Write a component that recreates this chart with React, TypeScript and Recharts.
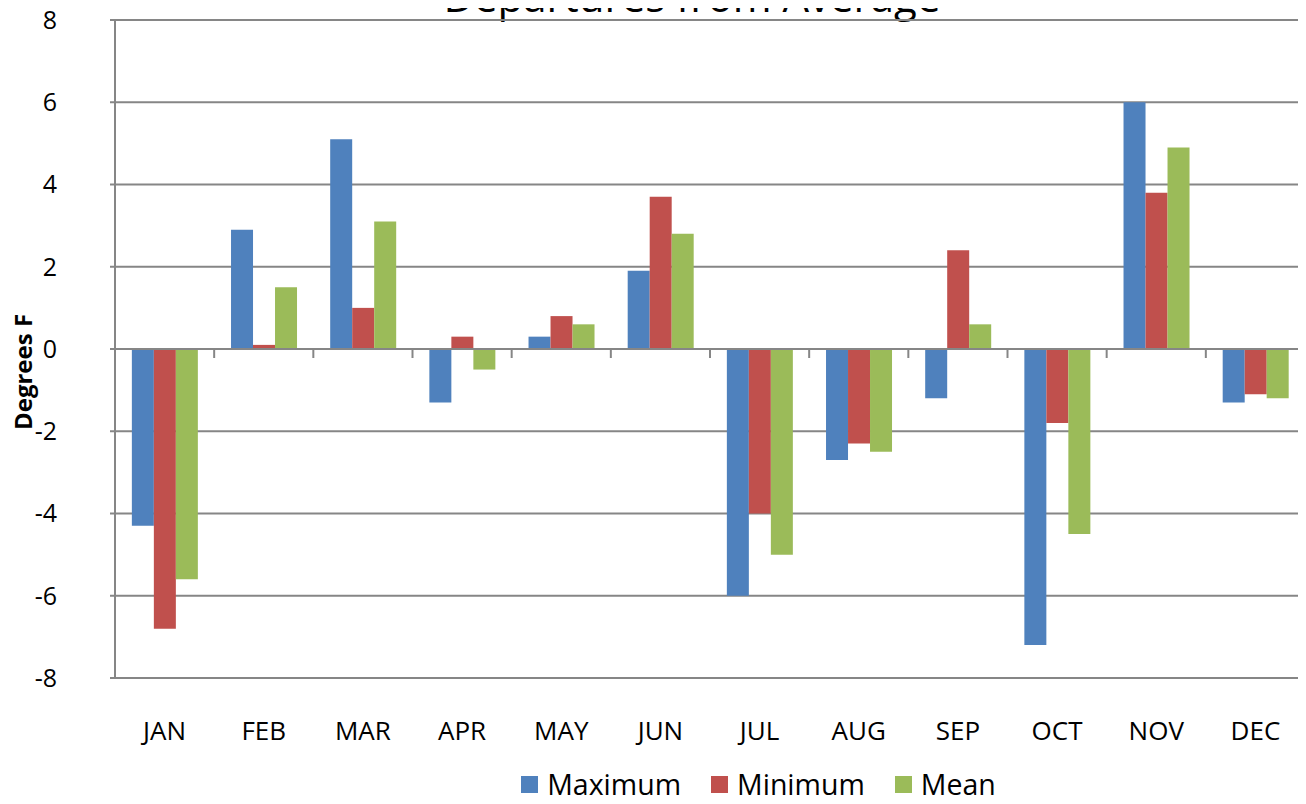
import React from "react";
import {
    BarChart,
    Bar,
    XAxis,
    YAxis,
    CartesianGrid,
    ReferenceLine,
    Legend,
} from "recharts";

const months = ["JAN", "FEB", "MAR", "APR", "MAY", "JUN", "JUL", "AUG", "SEP", "OCT", "NOV", "DEC"];
const maximum = [-4.3, 2.9, 5.1, -1.3, 0.3, 1.9, -6.0, -2.7, -1.2, -7.2, 6.0, -1.3];
const minimum = [-6.8, 0.1, 1.0, 0.3, 0.8, 3.7, -4.0, -2.3, 2.4, -1.8, 3.8, -1.1];
const mean = [-5.6, 1.5, 3.1, -0.5, 0.6, 2.8, -5.0, -2.5, 0.6, -4.5, 4.9, -1.2];
const yTicks = [-8, -6, -4, -2, 0, 2, 4, 6, 8];

const series = [
    { key: "Maximum", color: "#4F81BD" },
    { key: "Minimum", color: "#C0504D" },
    { key: "Mean", color: "#9BBB59" },
];

const data = months.map((month, i) => ({
    month,
    Maximum: maximum[i],
    Minimum: minimum[i],
    Mean: mean[i],
}));

const W = 1306;
const H = 796;
const PLOT_LEFT = 115;
const PLOT_RIGHT = 1305;
const PLOT_TOP = 20;
const PLOT_BOTTOM = 678;
const ZERO_Y = (PLOT_TOP + PLOT_BOTTOM) / 2;
const BAND = (PLOT_RIGHT - PLOT_LEFT) / months.length;
const FONT = "'Open Sans', sans-serif";
const GRID = "#868686";

function MonthTick(props: any) {
    const { x, payload, index } = props;
    return (
        <g>
            <line x1={x - BAND / 2} x2={x - BAND / 2} y1={ZERO_Y} y2={ZERO_Y + 9} stroke={GRID} strokeWidth={2} />
            {index === months.length - 1 && (
                <line x1={x + BAND / 2} x2={x + BAND / 2} y1={ZERO_Y} y2={ZERO_Y + 9} stroke={GRID} strokeWidth={2} />
            )}
            <text x={x} y={PLOT_BOTTOM + 52} textAnchor="middle" dominantBaseline="central" fontSize={26} fontFamily={FONT} fill="#000">
                {payload.value}
            </text>
        </g>
    );
}

function AxisTitle() {
    return (
        <text
            x={22}
            y={372}
            transform="rotate(-90 22 372)"
            textAnchor="middle"
            dominantBaseline="central"
            fontSize={24}
            fontWeight="bold"
            fontFamily={FONT}
            fill="#000"
        >
            Degrees F
        </text>
    );
}

function LegendContent() {
    return (
        <div style={{ display: "flex", justifyContent: "center", gap: 30, paddingLeft: 212, paddingTop: 34, height: 24, fontFamily: FONT, fontSize: 28.5, lineHeight: "30px" }}>
            {series.map((s) => (
                <div key={s.key} style={{ display: "flex", alignItems: "center" }}>
                    <span style={{ display: "inline-block", width: 17, height: 17, background: s.color, marginRight: 9 }} />
                    <span>{s.key}</span>
                </div>
            ))}
        </div>
    );
}

export default function App() {
    return (
        <div style={{ position: "relative", width: W, height: H, margin: "-8px 0 0 -8px", background: "#fff" }}>
            <svg style={{ position: "absolute", left: 0, top: 0 }} width={W} height={30}>
                <text x={692} y={12} textAnchor="middle" fontSize={42} fontFamily={FONT} fill="#000">
                    Departures from Average
                </text>
            </svg>
            <BarChart
                width={W}
                height={H}
                data={data}
                margin={{ top: PLOT_TOP, right: W - PLOT_RIGHT, left: 0, bottom: 0 }}
                barCategoryGap="17%"
                barGap={0}
            >
                <CartesianGrid vertical={false} stroke={GRID} strokeWidth={2} />
                <XAxis
                    dataKey="month"
                    height={60}
                    axisLine={false}
                    tickLine={false}
                    interval={0}
                    tick={<MonthTick />}
                />
                <YAxis
                    width={PLOT_LEFT}
                    domain={[-8, 8]}
                    ticks={yTicks}
                    interval={0}
                    axisLine={{ stroke: GRID, strokeWidth: 2 }}
                    tickLine={{ stroke: GRID, strokeWidth: 2 }}
                    tickSize={5}
                    tickMargin={53}
                    tick={{ fill: "#000", fontSize: 25, fontFamily: FONT }}
                    label={<AxisTitle />}
                />
                <ReferenceLine y={0} stroke={GRID} strokeWidth={2} />
                {series.map((s) => (
                    <Bar key={s.key} dataKey={s.key} fill={s.color} isAnimationActive={false} />
                ))}
                <Legend verticalAlign="bottom" height={58} content={<LegendContent />} />
            </BarChart>
        </div>
    );
}
